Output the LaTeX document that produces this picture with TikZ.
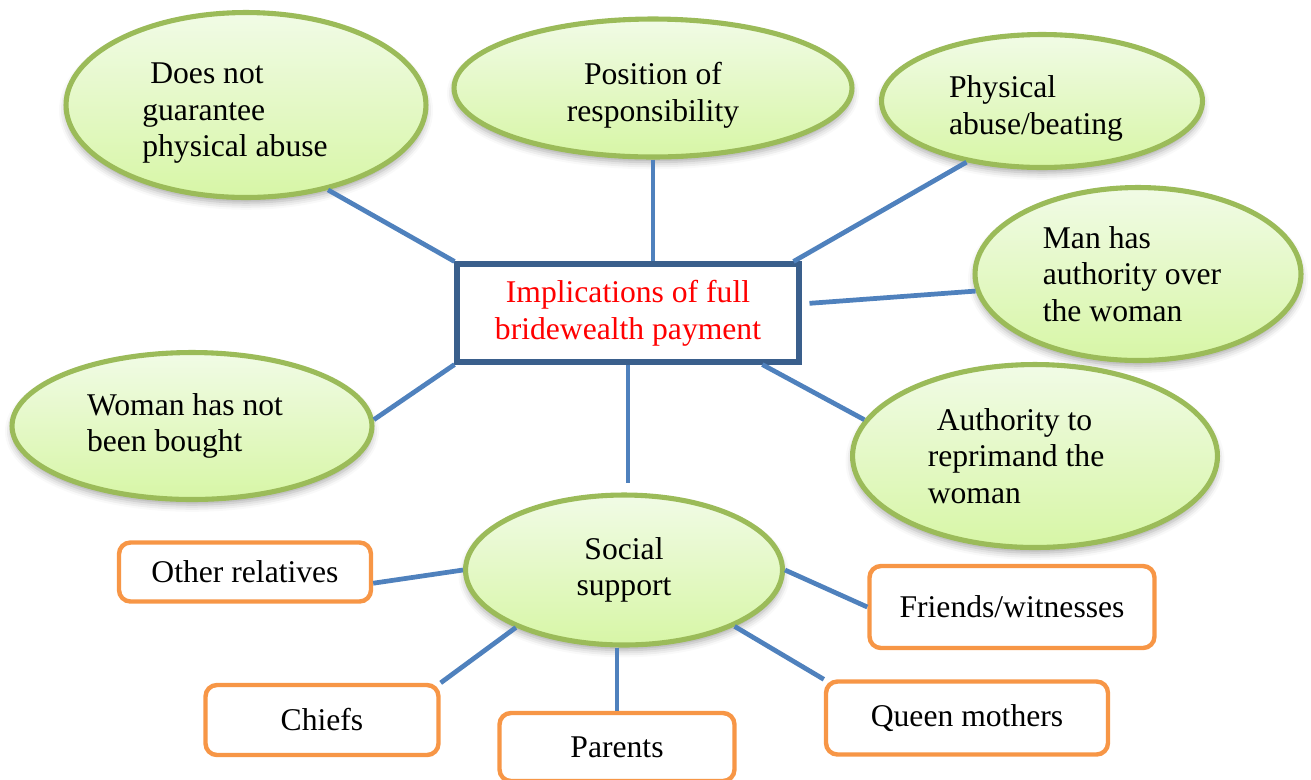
\documentclass[tikz,border=0pt]{standalone}
\usepackage{fontspec}
\setmainfont{Liberation Serif}
\usetikzlibrary{shapes.geometric,shadows.blur}

\definecolor{bubbleedge}{HTML}{9BBB59}
\definecolor{bubbletop}{HTML}{F1FBE6}
\definecolor{bubblebot}{HTML}{D7F6A6}
\definecolor{boxedge}{HTML}{3A5F8C}
\definecolor{memberedge}{HTML}{F79646}
\definecolor{linkblue}{HTML}{4F81BD}

% pushes a label a little lower in its bubble
\newcommand{\padtop}{\rule{0pt}{21pt}}
% pushes a label to the left in its bubble
\newcommand{\padright}[1]{\rule{#1}{0pt}}

\begin{document}
\begin{tikzpicture}[x=0.02cm,y=-0.02cm,
        every node/.style={font=\fontsize{18}{20.8}\selectfont},
        bubble/.style={ellipse, draw=bubbleedge, line width=2.9pt,
            top color=bubbletop, bottom color=bubblebot, inner sep=0pt, align=left,
            blur shadow={shadow xshift=0pt, shadow yshift=-3pt, shadow opacity=35, shadow blur radius=4pt}},
        central/.style={rectangle, draw=boxedge, line width=2.9pt, fill=white,
            text=red, align=center, inner sep=0pt},
        member/.style={rectangle, rounded corners=6.5pt, draw=memberedge,
            line width=2.5pt, fill=white, inner sep=0pt},
        link/.style={draw=linkblue, line width=2.7pt}]
    \useasboundingbox (0,0) rectangle (1311,779);

    % the centre
    \node[central, minimum width=6.84cm, minimum height=1.96cm] (impl) at (628,313)
        {Implications of full\\bridewealth payment};

    % the implications
    \node[bubble, minimum width=7.2cm, minimum height=3.7cm] (abuse) at (246,105)
        {\padtop\hspace*{0.16cm}Does not\\guarantee\\physical abuse\padright{0.44cm}};
    \node[bubble, align=center, minimum width=7.96cm, minimum height=2.76cm] (position) at (653,88)
        {\padtop Position of\\responsibility};
    \node[bubble, minimum width=6.42cm, minimum height=2.66cm] (beating) at (1042,101)
        {\padtop Physical\\abuse/beating\padright{0.24cm}};
    \node[bubble, minimum width=6.52cm, minimum height=3.46cm] (authority) at (1138,274)
        {Man has\\authority over\padright{0.24cm}\\the woman};
    \node[bubble, minimum width=7.3cm, minimum height=3.66cm] (reprimand) at (1035,456)
        {\hspace*{0.18cm}Authority to\\reprimand the\padright{0.76cm}\\woman};
    \node[bubble, minimum width=7.2cm, minimum height=2.94cm] (bought) at (192,426)
        {Woman has not\padright{0.28cm}\\been bought};
    \node[bubble, align=center, minimum width=6.34cm, minimum height=3.0cm] (social) at (624,570)
        {Social\\support};

    % who gives the support
    \node[member, minimum width=5.04cm, minimum height=1.18cm] (other) at (245,572) {Other relatives};
    \node[member, minimum width=5.7cm, minimum height=1.64cm] (friends) at (1012,607) {Friends/witnesses};
    \node[member, minimum width=4.66cm, minimum height=1.4cm] (chiefs) at (322,720) {Chiefs};
    \node[member, minimum width=4.7cm, minimum height=1.36cm] (parents) at (617,747) {Parents};
    \node[member, minimum width=5.64cm, minimum height=1.46cm] (queen) at (967,718) {Queen mothers};

    % links
    \draw[link] (abuse.-46) -- (impl.north west);
    \draw[link] (position.south) -- (position.south |- impl.north);
    \draw[link] (beating.219) -- ([xshift=-0.16cm]impl.north east);
    \draw[link, shorten <=0.16cm] (impl.3) -- (authority.186);
    \draw[link] (impl.-21) -- (reprimand.168);
    \draw[link] (bought.2) -- (impl.south west);
    \draw[link, shorten >=0.18cm] (impl.south) -- (impl.south |- social.north);

    \draw[link] (social.west) -- (other.-5);
    \draw[link] (social.east) -- (friends.west);
    \draw[link] (social.208) -- (chiefs.north east);
    \draw[link] (parents.north |- social.south) -- (parents.north);
    \draw[link] (social.-27) -- (queen.north west);
\end{tikzpicture}
\end{document}
